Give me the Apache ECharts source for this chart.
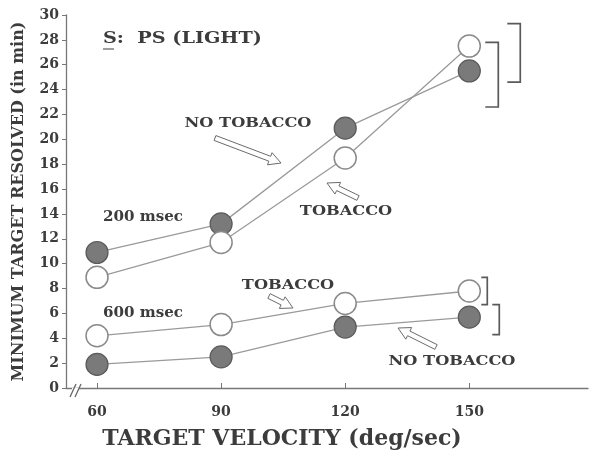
<!DOCTYPE html>
<html><head><meta charset="utf-8">
<script src="https://cdn.jsdelivr.net/npm/echarts@6/dist/echarts.min.js"></script>
<style>html,body{margin:0;padding:0;background:#fff}#c{width:589px;height:455px}</style>
</head><body><div id="c"></div>
<script>
var velocities = [60, 90, 120, 150];
var xTickLabels = [60, 90, 120, 150];
var noTob200 = [10.9, 13.2, 20.9, 25.5];
var tob200 = [8.9, 11.7, 18.5, 27.5];
var tob600 = [4.2, 5.1, 6.8, 7.8];
var noTob600 = [1.9, 2.5, 4.9, 5.7];
// bracket ranges at 150 deg/sec [low, high]
var rangeTob200 = [24.6, 29.3];
var rangeNoTob200 = [22.6, 27.8];
var rangeTob600 = [6.7, 8.9];
var rangeNoTob600 = [4.3, 6.7];

var TXT = '#3c3c3c';
var FONT = '"DejaVu Serif", serif';

function pairs(ys){ return velocities.map(function(x,i){ return [x, ys[i]]; }); }

function lineSeries(name, ys, filled){
  return {
    name: name, type: 'line', data: pairs(ys), symbol: 'circle', symbolSize: 22,
    lineStyle: {color: '#9a9a9a', width: 1.3},
    itemStyle: filled ? {color: '#7a7a7a', borderColor: '#5a5a5a', borderWidth: 1.2}
                      : {color: '#ffffff', borderColor: '#8a8a8a', borderWidth: 1.5},
    emphasis: {disabled: true}, z: 3
  };
}

var brackets = [
  {x: 150, r: rangeTob200, off: 51, len: 13},
  {x: 150, r: rangeNoTob200, off: 29, len: 13},
  {x: 150, r: rangeTob600, off: 18, len: 6},
  {x: 150, r: rangeNoTob600, off: 30, len: 7}
];

function arrow(x1,y1,x2,y2){
  var dx=x2-x1, dy=y2-y1, d=Math.sqrt(dx*dx+dy*dy), ux=dx/d, uy=dy/d, nx=-uy, ny=ux;
  var w=2.6, h=6.5, L=12, kx=x2-ux*L, ky=y2-uy*L;
  return {type:'polygon', shape:{points:[
    [x1+nx*w,y1+ny*w],[kx+nx*w,ky+ny*w],[kx+nx*h,ky+ny*h],[x2,y2],
    [kx-nx*h,ky-ny*h],[kx-nx*w,ky-ny*w],[x1-nx*w,y1-ny*w]]},
    style:{fill:'#fff', stroke:'#6a6a6a', lineWidth:1}, z:10};
}
function txt(x,y,t,size,sx,align){
  return {type:'text', x:x, y:y, scaleX: sx||1, style:{text:t, font:'bold '+size+'px '+FONT, fill:TXT, textAlign:align||'center', textVerticalAlign:'middle'}, z:10};
}

var chart = echarts.init(document.getElementById('c'));
chart.setOption({
  animation: false,
  grid: {left: 66, right: 1, top: 15, bottom: 64},
  xAxis: {
    type: 'value', min: 52.5, max: 178.7,
    axisLine: {lineStyle: {color: '#777', width: 1.3}},
    axisTick: {show: true, inside: true, length: 5, customValues: xTickLabels, lineStyle: {color: '#777'}},
    axisLabel: {customValues: xTickLabels, color: TXT, fontFamily: FONT, fontWeight: 'bold', fontSize: 14, margin: 17},
    splitLine: {show: false},
    name: 'TARGET VELOCITY (deg/sec)', nameLocation: 'middle', nameGap: 40,
    nameTextStyle: {color: TXT, fontFamily: FONT, fontWeight: 'bold', fontSize: 22, padding: [0, 0, 0, -90]}
  },
  yAxis: {
    type: 'value', min: 0, max: 30, interval: 2,
    axisLine: {show: true, lineStyle: {color: '#777', width: 1.3}},
    axisTick: {show: true, inside: false, length: 4, lineStyle: {color: '#777'}},
    axisLabel: {color: TXT, fontFamily: FONT, fontWeight: 'bold', fontSize: 14, margin: 7},
    splitLine: {show: false},
    name: 'MINIMUM TARGET RESOLVED (in min)', nameLocation: 'middle', nameGap: 39,
    nameTextStyle: {color: TXT, fontFamily: FONT, fontWeight: 'bold', fontSize: 16}
  },
  series: [
    lineSeries('200 NO TOBACCO', noTob200, true),
    lineSeries('200 TOBACCO', tob200, false),
    lineSeries('600 TOBACCO', tob600, false),
    lineSeries('600 NO TOBACCO', noTob600, true),
    {
      type: 'custom', data: brackets.map(function(b,i){ return [b.x, b.r[0], b.r[1], i]; }),
      renderItem: function(params, api){
        var b = brackets[api.value(3)];
        var lo = api.coord([api.value(0), api.value(1)]);
        var hi = api.coord([api.value(0), api.value(2)]);
        var x = lo[0] + b.off;
        return {type:'polyline', shape:{points:[[x-b.len, hi[1]],[x, hi[1]],[x, lo[1]],[x-b.len, lo[1]]]},
          style:{stroke:'#5a5a5a', lineWidth:1.7, fill:null}};
      }, z: 2, silent: true
    }
  ],
  graphic: [
    txt(103, 39, 'S:  PS (LIGHT)', 16, 1.2, 'left'),
    {type:'line', shape:{x1:103,y1:49,x2:114,y2:49}, style:{stroke:TXT, lineWidth:1}, z:10},
    txt(248, 123, 'NO TOBACCO', 13.5, 1.2),
    txt(346, 211, 'TOBACCO', 13.5, 1.2),
    txt(143, 217, '200 msec', 14, 1.08),
    txt(143, 313, '600 msec', 14, 1.08),
    txt(288, 285, 'TOBACCO', 13.5, 1.2),
    txt(452, 361, 'NO TOBACCO', 13.5, 1.2),
    arrow(215,138,281,163),
    arrow(358,198,327,183),
    arrow(269,296,293,308),
    arrow(436,347,398,328),
    {type:'rect', shape:{x:72,y:388,width:7,height:6}, style:{fill:'#fff'}, z:9},
    {type:'line', shape:{x1:70,y1:397,x2:76,y2:384}, style:{stroke:'#666', lineWidth:1.3}, z:10},
    {type:'line', shape:{x1:75,y1:397,x2:81,y2:384}, style:{stroke:'#666', lineWidth:1.3}, z:10}
  ]
});
</script></body></html>
